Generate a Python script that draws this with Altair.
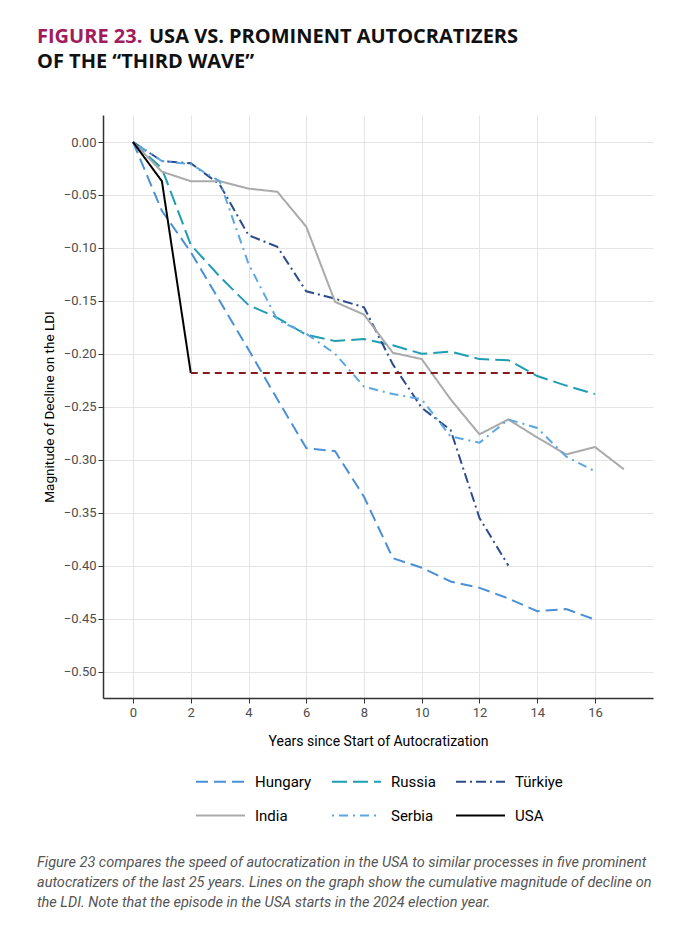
import altair as alt
import pandas as pd

# ---------------- data ----------------
years_hungary = list(range(0, 17))
hungary = [0.0, -0.065, -0.104, -0.150, -0.196, -0.243, -0.289, -0.292, -0.335,
           -0.393, -0.402, -0.415, -0.421, -0.431, -0.443, -0.441, -0.451]

years_russia = list(range(0, 17))
russia = [0.0, -0.025, -0.097, -0.127, -0.154, -0.166, -0.182, -0.188, -0.186,
          -0.192, -0.200, -0.198, -0.205, -0.206, -0.221, -0.230, -0.238]

years_turkiye = list(range(0, 14))
turkiye = [0.0, -0.018, -0.020, -0.040, -0.088, -0.099, -0.141, -0.148, -0.156,
           -0.210, -0.251, -0.272, -0.355, -0.400]

years_india = list(range(0, 18))
india = [0.0, -0.028, -0.037, -0.037, -0.044, -0.047, -0.080, -0.151, -0.163,
         -0.199, -0.205, -0.243, -0.276, -0.262, -0.279, -0.295, -0.288, -0.309]

years_serbia = list(range(0, 17))
serbia = [0.0, -0.018, -0.021, -0.037, -0.115, -0.168, -0.181, -0.200, -0.231,
          -0.238, -0.243, -0.278, -0.284, -0.262, -0.270, -0.297, -0.311]

years_usa = [0, 1, 2]
usa = [0.0, -0.037, -0.218]

ref_years = [2, 14]
ref_values = [-0.218, -0.218]

countries = ["Hungary", "Russia", "Türkiye", "India", "Serbia", "USA"]
colors = ["#4a90d6", "#1f9db2", "#2c4b8c", "#aaaaaa", "#5ba6e3", "#000000"]
dashes = [[12, 6], [15, 6], [10, 4, 2, 4], [1, 0], [2, 5, 9, 5], [1, 0]]

title_parts = ["FIGURE 23.", "USA VS. PROMINENT AUTOCRATIZERS", "OF THE \u201cTHIRD WAVE\u201d"]
caption_lines = [
    "Figure 23 compares the speed of autocratization in the USA to similar processes in five prominent",
    "autocratizers of the last 25 years. Lines on the graph show the cumulative magnitude of decline on",
    "the LDI. Note that the episode in the USA starts in the 2024 election year.",
]
x_ticks = list(range(0, 17, 2))
y_ticks = [-0.50, -0.45, -0.40, -0.35, -0.30, -0.25, -0.20, -0.15, -0.10, -0.05, 0.0]

rows = []
for name, yrs, vals in [("Hungary", years_hungary, hungary), ("Russia", years_russia, russia),
                        ("Türkiye", years_turkiye, turkiye), ("India", years_india, india),
                        ("Serbia", years_serbia, serbia), ("USA", years_usa, usa)]:
    for yr, v in zip(yrs, vals):
        rows.append({"country": name, "year": yr, "value": v})
df = pd.DataFrame(rows)
ref_df = pd.DataFrame({"year": ref_years, "value": ref_values})

FONT = "Roboto, sans-serif"
TFONT = "Open Sans, sans-serif"

W, H = 550, 583

xenc = alt.X("year:Q", scale=alt.Scale(domain=[-1.04, 18.01], nice=False, zero=False),
             axis=alt.Axis(values=x_ticks, title="Years since Start of Autocratization",
                           format="d", labelPadding=3, titlePadding=15))
yenc = alt.Y("value:Q", scale=alt.Scale(domain=[-0.525, 0.0255], nice=False, zero=False),
             axis=alt.Axis(values=y_ticks, format=".2f", title="Magnitude of Decline on the LDI",
                           labelPadding=2, titlePadding=7, titleFontSize=13.5))

leg = alt.Legend(orient="none", legendX=92, legendY=641, columns=3, direction="horizontal",
                 gridAlign="each",
                 title=None, symbolType="stroke", symbolSize=2400, symbolStrokeWidth=2,
                 labelFontSize=15, labelFont=FONT, labelColor="black",
                 columnPadding=16, rowPadding=-19, labelOffset=9, padding=0,
                 labelLimit=200)

lines = alt.Chart(df).mark_line(strokeWidth=2).encode(
    x=xenc,
    y=yenc,
    color=alt.Color("country:N", scale=alt.Scale(domain=countries, range=colors), legend=leg),
    strokeDash=alt.StrokeDash("country:N", scale=alt.Scale(domain=countries, range=dashes), legend=leg),
    detail="country:N",
)

ref = alt.Chart(ref_df).mark_line(color="#8b1a1a", strokeDash=[7, 5], strokeWidth=2).encode(
    x="year:Q", y="value:Q"
)

t1 = alt.Chart(pd.DataFrame({"t": [title_parts[0]]})).mark_text(
    align="left", baseline="alphabetic", font=TFONT, fontWeight="bold", fontSize=20, color="#a01c5c"
).encode(x=alt.value(-66), y=alt.value(-72), text="t:N")
t2 = alt.Chart(pd.DataFrame({"t": [title_parts[1]]})).mark_text(
    align="left", baseline="alphabetic", font=TFONT, fontWeight="bold", fontSize=20, color="#111111"
).encode(x=alt.value(46), y=alt.value(-72), text="t:N")
t3 = alt.Chart(pd.DataFrame({"t": [title_parts[2]]})).mark_text(
    align="left", baseline="alphabetic", font=TFONT, fontWeight="bold", fontSize=20, color="#111111"
).encode(x=alt.value(-66), y=alt.value(-47), text="t:N")

cap = alt.Chart(pd.DataFrame({"t": [0]})).mark_text(
    align="left", baseline="alphabetic", font=FONT, fontStyle="italic", fontSize=14.5,
    color="#555555", text=caption_lines, lineHeight=20
).encode(x=alt.value(-66), y=alt.value(752))

chart = alt.layer(lines, ref, t1, t2, t3, cap).properties(
    width=W, height=H,
    autosize=alt.AutoSizeParams(type="none"),
    padding={"left": 103, "top": 115, "right": 20, "bottom": 251},
    background="white",
).configure_view(strokeWidth=0).configure_axis(
    domainColor="#333333", domainWidth=1.5, tickColor="#333333", tickSize=5, tickWidth=1,
    gridColor="#e4e4e4", gridWidth=1,
    labelColor="#4d4d4d", labelFontSize=13, labelFont=FONT,
    titleFont=FONT, titleFontSize=14, titleColor="black", titleFontWeight="normal",
)

chart.save("out.html", embed_options={"renderer": "svg", "actions": False})
